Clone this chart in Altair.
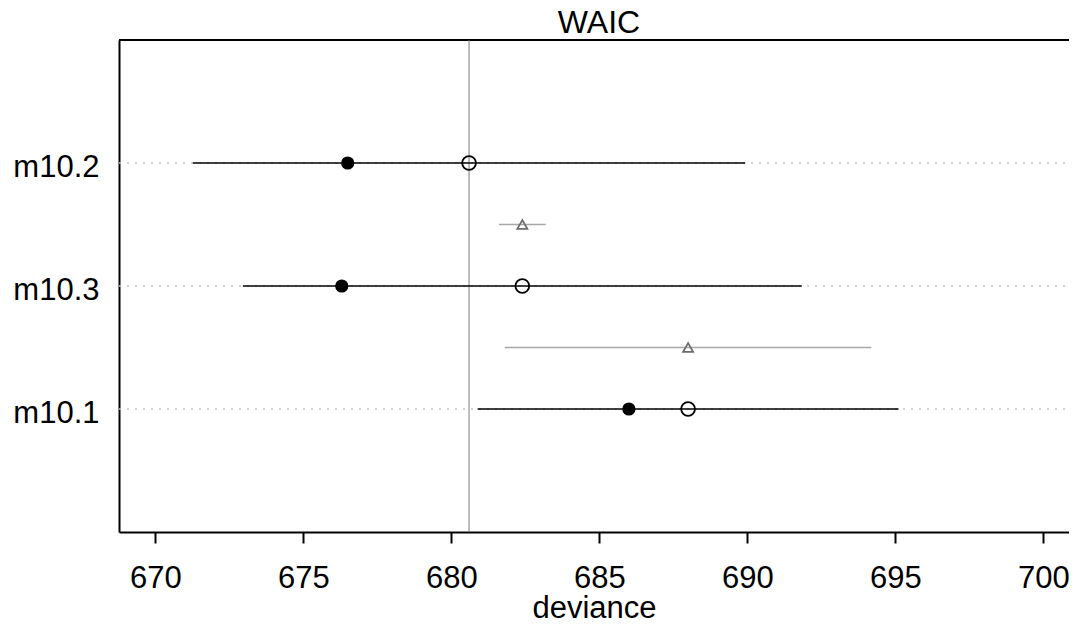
import altair as alt
import pandas as pd

# ---- data ----
models = ["m10.2", "m10.3", "m10.1"]
row_pos = [3, 2, 1]
waic = [680.6, 682.4, 688.0]
waic_se = [9.33, 9.44, 7.11]
deviance_in = [676.5, 676.3, 686.0]
dse_pos = [2.5, 1.5]
dse_center = [682.4, 688.0]
dse_half = [0.79, 6.19]
x_ticks = [670, 675, 680, 685, 690, 695, 700]
x_domain = [668.774, 700.869]
y_domain = [0, 4]
title_text = ["WAIC"]

FONT = "Liberation Sans"
FS = 31
W, H = 950, 492

df = pd.DataFrame({
    "model": models,
    "row": row_pos,
    "waic": waic,
    "lo": [w - s for w, s in zip(waic, waic_se)],
    "hi": [w + s for w, s in zip(waic, waic_se)],
    "dev": deviance_in,
})
dd = pd.DataFrame({
    "row": dse_pos,
    "c": dse_center,
    "lo": [c - h for c, h in zip(dse_center, dse_half)],
    "hi": [c + h for c, h in zip(dse_center, dse_half)],
})

label_expr = " : ".join(
    f"datum.value == {r} ? '{m}'" for r, m in zip(row_pos, models)
) + " : ''"

xscale = alt.Scale(domain=x_domain, nice=False, zero=False)
yscale = alt.Scale(domain=y_domain, nice=False, zero=False)

x_axis = alt.Axis(
    values=x_ticks, format="d", title="deviance", grid=False,
    tickSize=11, tickWidth=2, tickColor="black",
    domainColor="black", domainWidth=2,
    labelFont=FONT, labelFontSize=FS, labelColor="black", labelPadding=20,
    labelFlush=False, labelOverlap=False,
    titleFont=FONT, titleFontSize=FS, titleFontWeight="normal", titleColor="black",
    titleBaseline="alphabetic", titleY=85,
)
y_axis = alt.Axis(
    values=row_pos, labelExpr=label_expr, title=None, grid=False,
    ticks=False, tickSize=0, domainColor="black", domainWidth=2,
    labelFont=FONT, labelFontSize=FS, labelColor="black", labelPadding=20,
    labelBaseline="middle", labelOffset=4,
)

base = alt.Chart(df)

rows = base.mark_rule(color="#C4C4C4", strokeDash=[2, 6], strokeWidth=1.5).encode(
    y=alt.Y("row:Q", scale=yscale, axis=y_axis),
    x=alt.datum(x_domain[0], scale=xscale, axis=x_axis),
    x2=alt.datum(x_domain[1]),
)

top_frame = base.mark_rule(color="black", strokeWidth=2).encode(
    y=alt.datum(y_domain[1]),
    x=alt.datum(x_domain[0]),
    x2=alt.datum(x_domain[1]),
)

title = alt.Chart(pd.DataFrame({"t": title_text})).mark_text(
    font=FONT, fontSize=32, color="black", align="center", baseline="alphabetic"
).encode(text="t:N", x=alt.value(480), y=alt.value(-7.5))

vline = alt.Chart(pd.DataFrame({"v": [min(waic)]})).mark_rule(
    color="#7A7A7A", strokeWidth=1
).encode(x="v:Q")

se_lines = base.mark_rule(color="black", strokeWidth=1.6).encode(
    x="lo:Q", x2="hi:Q", y="row:Q"
)

dev_pts = base.mark_point(
    shape="circle", filled=True, size=175, color="black", opacity=1
).encode(x="dev:Q", y="row:Q")

waic_pts = base.mark_point(
    shape="circle", filled=False, size=190, strokeWidth=1.8, color="black", opacity=1
).encode(x="waic:Q", y="row:Q")

dse_lines = alt.Chart(dd).mark_rule(color="#A8A8A8", strokeWidth=1.6).encode(
    x="lo:Q", x2="hi:Q", y="row:Q"
)

dse_pts = alt.Chart(dd).mark_point(
    shape="triangle-up", filled=False, size=100, strokeWidth=1.8, color="#6E6E6E", opacity=1
).encode(x="c:Q", y="row:Q")

chart = alt.layer(
    rows, top_frame, vline, se_lines, dev_pts, waic_pts, dse_lines, dse_pts, title
).properties(
    width=W,
    height=H,
    autosize=alt.AutoSizeParams(type="none"),
    padding={"left": 111, "top": 32, "right": 0, "bottom": 86},
    background="white",
).configure_view(stroke=None, strokeWidth=0, strokeOpacity=0)

chart.save("out.html", embed_options={"renderer": "svg", "actions": False})
